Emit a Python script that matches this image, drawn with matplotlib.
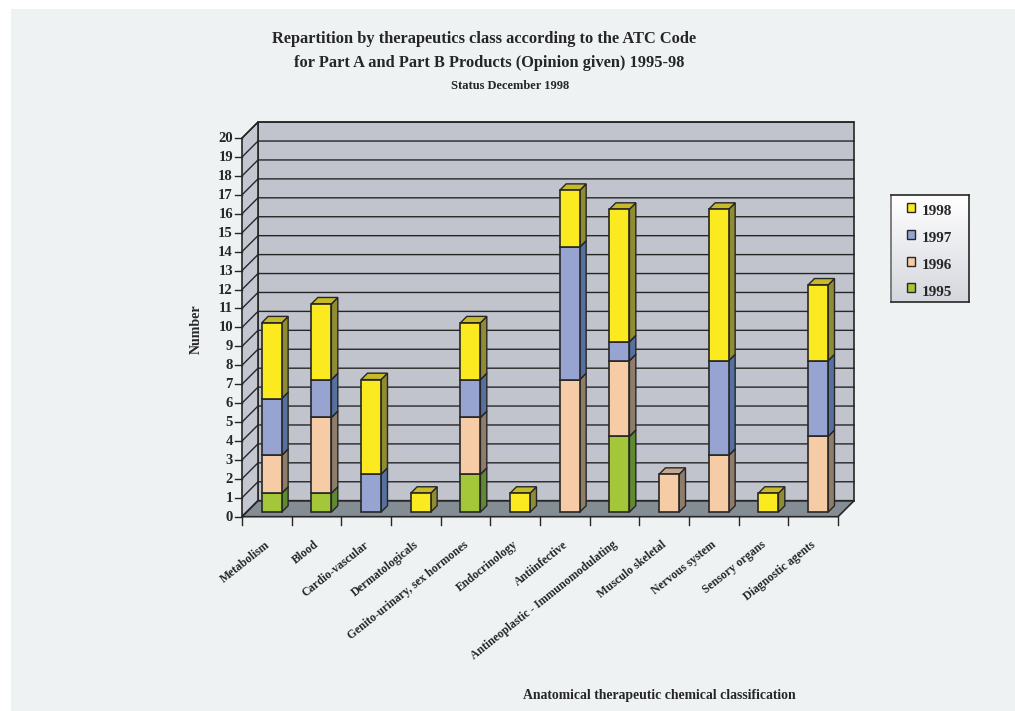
"""Stacked pseudo-3D bars: opinions by ATC class, 1995-98."""
import numpy as np
import matplotlib
matplotlib.use("Agg")
import matplotlib.pyplot as plt
from matplotlib.patches import Polygon, Rectangle

plt.rcParams["font.family"] = ["Liberation Serif", "DejaVu Serif"]
plt.rcParams["font.weight"] = "bold"

categories = ["Metabolism", "Blood", "Cardio-vascular", "Dermatologicals",
              "Genito-urinary, sex hormones", "Endocrinology", "Antiinfective",
              "Antineoplastic - Immunomodulating", "Musculo skeletal",
              "Nervous system", "Sensory organs", "Diagnostic agents"]
years = ["1995", "1996", "1997", "1998"]
v1995 = [1, 1, 0, 0, 2, 0, 0, 4, 0, 0, 0, 0]
v1996 = [2, 4, 0, 0, 3, 0, 7, 4, 2, 3, 0, 4]
v1997 = [3, 2, 2, 0, 2, 0, 7, 1, 0, 5, 0, 4]
v1998 = [4, 4, 5, 1, 3, 1, 3, 7, 0, 8, 1, 4]
yticks = list(range(21))

# front, side, top shade per year
colors = {"1995": ("#A4C73A", "#5F8A2F", "#86A535"),
          "1996": ("#F6CCA6", "#8F7D6A", "#C3A78F"),
          "1997": ("#97A4D1", "#56709F", "#7C89B4"),
          "1998": ("#FBEA20", "#908C33", "#C6BA2B")}
INK = "#262626"

W, H = 1015, 711
X0, Y0 = 242.0, 516.7          # pixel position of category 0 / value 0
PX_X, PX_Y = 49.67, 18.93      # pixels per category / per unit
DEPTH = 16.0                   # chart depth in px
BAR_W, BAR_NEAR, BAR_FAR = 20.0, 4.6, 11.0

fig = plt.figure(figsize=(W / 100, H / 100), dpi=100, facecolor="white")
fig.patches.append(Rectangle((11 / W, 0.5 / H), (W - 11) / W, (H - 9.5) / H,
                             transform=fig.transFigure, facecolor="#EEF2F3",
                             edgecolor="none", zorder=-1))

ax = fig.add_axes([0, 0, 1, 1])
ax.patch.set_alpha(0)
ax.set_xlim(-X0 / PX_X, (W - X0) / PX_X)
ax.set_ylim(-(H - Y0) / PX_Y, Y0 / PX_Y)
ax.axis("off")


def off(x, y, d):
    """Shift a data point back into the chart by d pixels of depth."""
    return x + d / PX_X, y + d / PX_Y


n, top = len(categories), yticks[-1]

# walls and floor
back = [off(0, 0, DEPTH), off(n, 0, DEPTH), off(n, top, DEPTH), off(0, top, DEPTH)]
ax.add_patch(Polygon(back, fc="#C1C4CD", ec=INK, lw=1.2, zorder=1))
side = [(0, 0), off(0, 0, DEPTH), off(0, top, DEPTH), (0, top)]
ax.add_patch(Polygon(side, fc="#C4C7CF", ec=INK, lw=1.2, zorder=1))
floor = [(0, 0), (n, 0), off(n, 0, DEPTH), off(0, 0, DEPTH)]
ax.add_patch(Polygon(floor, fc="#848D93", ec=INK, lw=1.2, zorder=1))

# gridlines, ticks
for v in yticks:
    bx, by = off(0, v, DEPTH)
    ex, _ = off(n, v, DEPTH)
    ax.plot([0, bx, ex], [v, by, by], color=INK, lw=1.0, zorder=2, solid_joinstyle="miter")
    ax.plot([-7 / PX_X, 0], [v, v], color=INK, lw=1.0, zorder=2)
    ax.text(-9 / PX_X, v - 0.5 / PX_Y, str(v), ha="right", va="center", fontsize=10.5, color=INK)
for i in range(n + 1):
    ax.plot([i, i], [0, -8 / PX_Y], color=INK, lw=1.0, zorder=2)
for i, name in enumerate(categories):
    ax.annotate(name, xy=(i + 0.45, -22 / PX_Y), ha="right", va="top", fontsize=8.5,
                rotation=38.5, rotation_mode="anchor", color=INK)

# stacked bars
series = [v1995, v1996, v1997, v1998]
for i in range(n):
    left = i + 0.5 + (BAR_NEAR - BAR_W / 2 + 0.3) / PX_X
    right = left + BAR_W / PX_X
    base = BAR_NEAR / PX_Y
    bottom = 0
    for year, vals in zip(years, series):
        v = vals[i]
        if v == 0:
            continue
        y0, y1 = base + bottom, base + bottom + v
        front, shade, lid = colors[year]
        sd = BAR_FAR - BAR_NEAR
        ax.add_patch(Polygon([(right, y0), off(right, y0, sd), off(right, y1, sd), (right, y1)],
                             fc=shade, ec=INK, lw=1.0, zorder=3))
        ax.add_patch(Polygon([(left, y1), (right, y1), off(right, y1, sd), off(left, y1, sd)],
                             fc=lid, ec=INK, lw=1.0, zorder=3))
        ax.add_patch(Rectangle((left, y0), right - left, v, fc=front, ec=INK, lw=1.2, zorder=4))
        bottom += v

# titles and axis labels
fig.text(484 / W, 1 - 39 / H, "Repartition by therapeutics class according to the ATC Code",
         ha="center", va="center", fontsize=11.75, color=INK)
fig.text(489 / W, 1 - 63 / H, "for Part A and Part B Products (Opinion given) 1995-98",
         ha="center", va="center", fontsize=11.75, color=INK)
fig.text(510 / W, 1 - 86 / H, "Status December 1998", ha="center", va="center",
         fontsize=9, color=INK)
fig.text(196 / W, 1 - 329 / H, "Number", rotation=90, ha="center", va="center",
         fontsize=10, color=INK)
fig.text(659 / W, 1 - 696 / H, "Anatomical therapeutic chemical classification",
         ha="center", va="center", fontsize=9.9, color=INK)

# legend box, white fading to grey
lx, ly, lw_, lh = 891, 195, 78, 107
lax = fig.add_axes([lx / W, 1 - (ly + lh) / H, lw_ / W, lh / H])
lax.imshow(np.linspace(1, 0, 64).reshape(-1, 1), aspect="auto", extent=(0, lw_, lh, 0),
           cmap=matplotlib.colors.LinearSegmentedColormap.from_list("g", ["#D5D7DE", "#FFFFFF"]))
lax.set_xlim(0, lw_)
lax.set_ylim(lh, 0)
lax.set_xticks([])
lax.set_yticks([])
for side_name, s in lax.spines.items():
    s.set_color("#6A6A6A" if side_name == "left" else INK)
    s.set_linewidth(1.2)
for k, year in enumerate(reversed(years)):
    yy = 13 + k * 26.8
    lax.add_patch(Rectangle((16, yy - 5), 8, 9, fc=colors[year][0], ec=INK, lw=1.0))
    lax.text(30.5, yy + 3.8, year, ha="left", va="center", fontsize=11, color=INK)

fig.savefig("out.png", dpi=100)
